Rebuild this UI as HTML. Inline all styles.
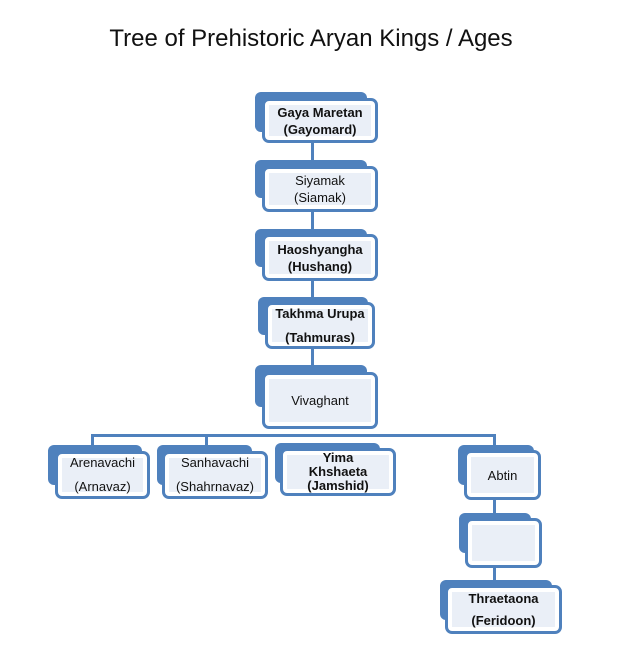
<!DOCTYPE html>
<html><head><style>
body{margin:0;width:632px;height:654px;background:#fff;position:relative;overflow:hidden;font-family:"Liberation Sans",sans-serif}
.b{position:absolute;background:#4f81bd;border-radius:6px}
.f{position:absolute;background:#fff;border:3px solid #4f81bd;border-radius:7px;box-sizing:border-box}
.f div{position:absolute;left:4px;right:4px;top:4px;bottom:4px;background:#eaeff7;display:flex;flex-direction:column;justify-content:center;align-items:center;text-align:center;font-size:13px;line-height:17px;color:#111}
.l{position:absolute;background:#4f81bd}
.t{position:absolute;top:25px;left:0;width:622px;text-align:center;font-size:24px;color:#111}
.bd{font-weight:bold}
</style></head><body>
<div class="t">Tree of Prehistoric Aryan Kings / Ages</div>
<div class="l" style="left:311px;top:130px;width:3px;height:250px"></div>
<div class="l" style="left:91px;top:434px;width:405px;height:3px"></div>
<div class="l" style="left:91px;top:434px;width:3px;height:15px"></div>
<div class="l" style="left:205px;top:434px;width:3px;height:15px"></div>
<div class="l" style="left:493px;top:434px;width:3px;height:15px"></div>
<div class="l" style="left:493px;top:490px;width:3px;height:100px"></div>

<div class="b" style="left:255px;top:92px;width:112px;height:40px"></div>
<div class="f" style="left:262px;top:98px;width:116px;height:45px"><div class="bd">Gaya Maretan<br>(Gayomard)</div></div>

<div class="b" style="left:255px;top:160px;width:112px;height:38px"></div>
<div class="f" style="left:262px;top:166px;width:116px;height:46px"><div>Siyamak<br>(Siamak)</div></div>

<div class="b" style="left:255px;top:229px;width:112px;height:38px"></div>
<div class="f" style="left:262px;top:234px;width:116px;height:47px"><div class="bd">Haoshyangha<br>(Hushang)</div></div>

<div class="b" style="left:258px;top:297px;width:110px;height:38px"></div>
<div class="f" style="left:265px;top:302px;width:110px;height:47px"><div class="bd" style="line-height:24px">Takhma Urupa<br>(Tahmuras)</div></div>

<div class="b" style="left:255px;top:365px;width:112px;height:42px"></div>
<div class="f" style="left:262px;top:372px;width:116px;height:57px"><div>Vivaghant</div></div>

<div class="b" style="left:48px;top:445px;width:94px;height:40px"></div>
<div class="f" style="left:55px;top:451px;width:95px;height:48px"><div style="line-height:24px">Arenavachi<br>(Arnavaz)</div></div>

<div class="b" style="left:157px;top:445px;width:95px;height:40px"></div>
<div class="f" style="left:162px;top:451px;width:106px;height:48px"><div style="line-height:24px">Sanhavachi<br>(Shahrnavaz)</div></div>

<div class="b" style="left:275px;top:443px;width:105px;height:40px"></div>
<div class="f" style="left:280px;top:448px;width:116px;height:48px"><div class="bd" style="line-height:14px">Yima<br>Khshaeta<br>(Jamshid)</div></div>

<div class="b" style="left:458px;top:445px;width:76px;height:40px"></div>
<div class="f" style="left:464px;top:450px;width:77px;height:50px"><div>Abtin</div></div>

<div class="b" style="left:459px;top:513px;width:72px;height:40px"></div>
<div class="f" style="left:465px;top:518px;width:77px;height:50px"><div></div></div>

<div class="b" style="left:440px;top:580px;width:112px;height:40px"></div>
<div class="f" style="left:445px;top:585px;width:117px;height:49px"><div class="bd" style="line-height:22px">Thraetaona<br>(Feridoon)</div></div>
</body></html>
